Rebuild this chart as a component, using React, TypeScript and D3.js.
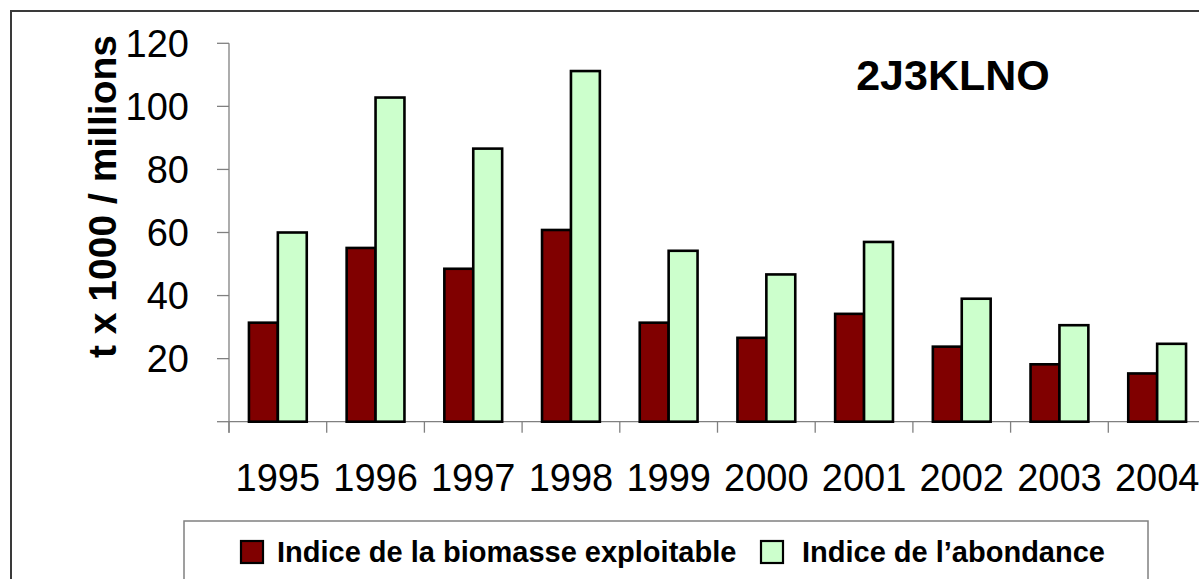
import React, { useEffect, useRef } from 'react';
import * as d3 from 'd3';

const years = ['1995', '1996', '1997', '1998', '1999', '2000', '2001', '2002', '2003', '2004'];
const biomasse = [31.4, 55.1, 48.5, 60.8, 31.4, 26.6, 34.2, 23.8, 18.2, 15.3];
const abondance = [60, 102.8, 86.6, 111.2, 54.2, 46.7, 57, 39, 30.6, 24.7];
const yTicks = [0, 20, 40, 60, 80, 100, 120];
const seriesNames = ['Indice de la biomasse exploitable', 'Indice de l\u2019abondance'];
const seriesColors = ['#800000', '#CCFFCC'];

const FONT = '"Liberation Sans", Arial, sans-serif';

export default function App() {
    const svgRef = useRef<SVGSVGElement>(null);

    useEffect(() => {
        if (!svgRef.current) return;
        const svg = d3.select(svgRef.current);
        svg.selectAll('*').remove();

        const plot = { left: 229, right: 1206, top: 43.3, bottom: 421.7 };

        // outer frame (runs off the right and bottom edges)
        svg.append('rect')
            .attr('x', 11).attr('y', 11)
            .attr('width', 1300).attr('height', 700)
            .attr('fill', 'white')
            .attr('stroke', '#3a3a3a')
            .attr('stroke-width', 2);

        const x0 = d3.scaleBand<string>()
            .domain(years)
            .range([plot.left, plot.right])
            .padding(0);

        const x1 = d3.scaleBand<number>()
            .domain([0, 1])
            .range([0, x0.step()])
            .paddingInner(0)
            .paddingOuter(0.69);

        const y = d3.scaleLinear()
            .domain([0, 120])
            .range([plot.bottom, plot.top]);

        const g = svg.append('g');

        // y axis
        g.append('line')
            .attr('x1', plot.left).attr('x2', plot.left)
            .attr('y1', y(120)).attr('y2', plot.bottom + 11)
            .attr('stroke', '#808080').attr('stroke-width', 1.3);

        g.selectAll('.ytick')
            .data(yTicks)
            .join('line')
            .attr('x1', plot.left - 12).attr('x2', plot.left)
            .attr('y1', d => y(d)).attr('y2', d => y(d))
            .attr('stroke', '#808080').attr('stroke-width', 1.3);

        g.selectAll('.ylabel')
            .data(yTicks.filter(d => d > 0))
            .join('text')
            .attr('x', 189)
            .attr('y', d => y(d))
            .attr('dy', '0.35em')
            .attr('text-anchor', 'end')
            .style('font-family', FONT)
            .style('font-size', '38px')
            .text(d => d);

        // x axis
        g.append('line')
            .attr('x1', plot.left).attr('x2', plot.right)
            .attr('y1', plot.bottom).attr('y2', plot.bottom)
            .attr('stroke', '#808080').attr('stroke-width', 1.3);

        g.selectAll('.xtick')
            .data(years)
            .join('line')
            .attr('x1', d => x0(d)!).attr('x2', d => x0(d)!)
            .attr('y1', plot.bottom).attr('y2', plot.bottom + 11)
            .attr('stroke', '#808080').attr('stroke-width', 1.3);

        g.selectAll('.xlabel')
            .data(years)
            .join('text')
            .attr('x', d => x0(d)! + x0.bandwidth() / 2)
            .attr('y', 491)
            .attr('text-anchor', 'middle')
            .style('font-family', FONT)
            .style('font-size', '38px')
            .text(d => d);

        // bars
        const series = [biomasse, abondance];
        series.forEach((vals, si) => {
            g.selectAll(`.bar${si}`)
                .data(years)
                .join('rect')
                .attr('x', (d) => x0(d)! + x1(si)!)
                .attr('y', (d, i) => y(vals[i]))
                .attr('width', x1.bandwidth())
                .attr('height', (d, i) => y(0) - y(vals[i]))
                .attr('fill', seriesColors[si])
                .attr('stroke', 'black')
                .attr('stroke-width', 2.6);
        });

        // title
        svg.append('text')
            .attr('x', 953).attr('y', 90)
            .attr('text-anchor', 'middle')
            .style('font-family', FONT)
            .style('font-size', '43px')
            .style('font-weight', 'bold')
            .text('2J3KLNO');

        // y axis title
        svg.append('text')
            .attr('transform', 'translate(116,196.5) rotate(-90)')
            .attr('text-anchor', 'middle')
            .style('font-family', FONT)
            .style('font-size', '39px')
            .style('font-weight', 'bold')
            .text('t x 1000 / millions');

        // legend
        const legend = svg.append('g');
        legend.append('rect')
            .attr('x', 184).attr('y', 521)
            .attr('width', 964).attr('height', 120)
            .attr('fill', 'white')
            .attr('stroke', '#808080')
            .attr('stroke-width', 1.5);

        const legendX = [241, 761];
        seriesNames.forEach((name, i) => {
            legend.append('rect')
                .attr('x', legendX[i]).attr('y', 541)
                .attr('width', 22).attr('height', 22)
                .attr('fill', seriesColors[i])
                .attr('stroke', 'black')
                .attr('stroke-width', 2.2);
            legend.append('text')
                .attr('x', legendX[i] + (i === 0 ? 36 : 41))
                .attr('y', 562)
                .style('font-family', FONT)
                .style('font-size', '29px')
                .style('font-weight', 'bold')
                .text(name);
        });
    }, []);

    return (
        <svg
            ref={svgRef}
            width={1199}
            height={579}
            style={{ position: 'absolute', left: 0, top: 0, display: 'block', background: 'white' }}
        />
    );
}
